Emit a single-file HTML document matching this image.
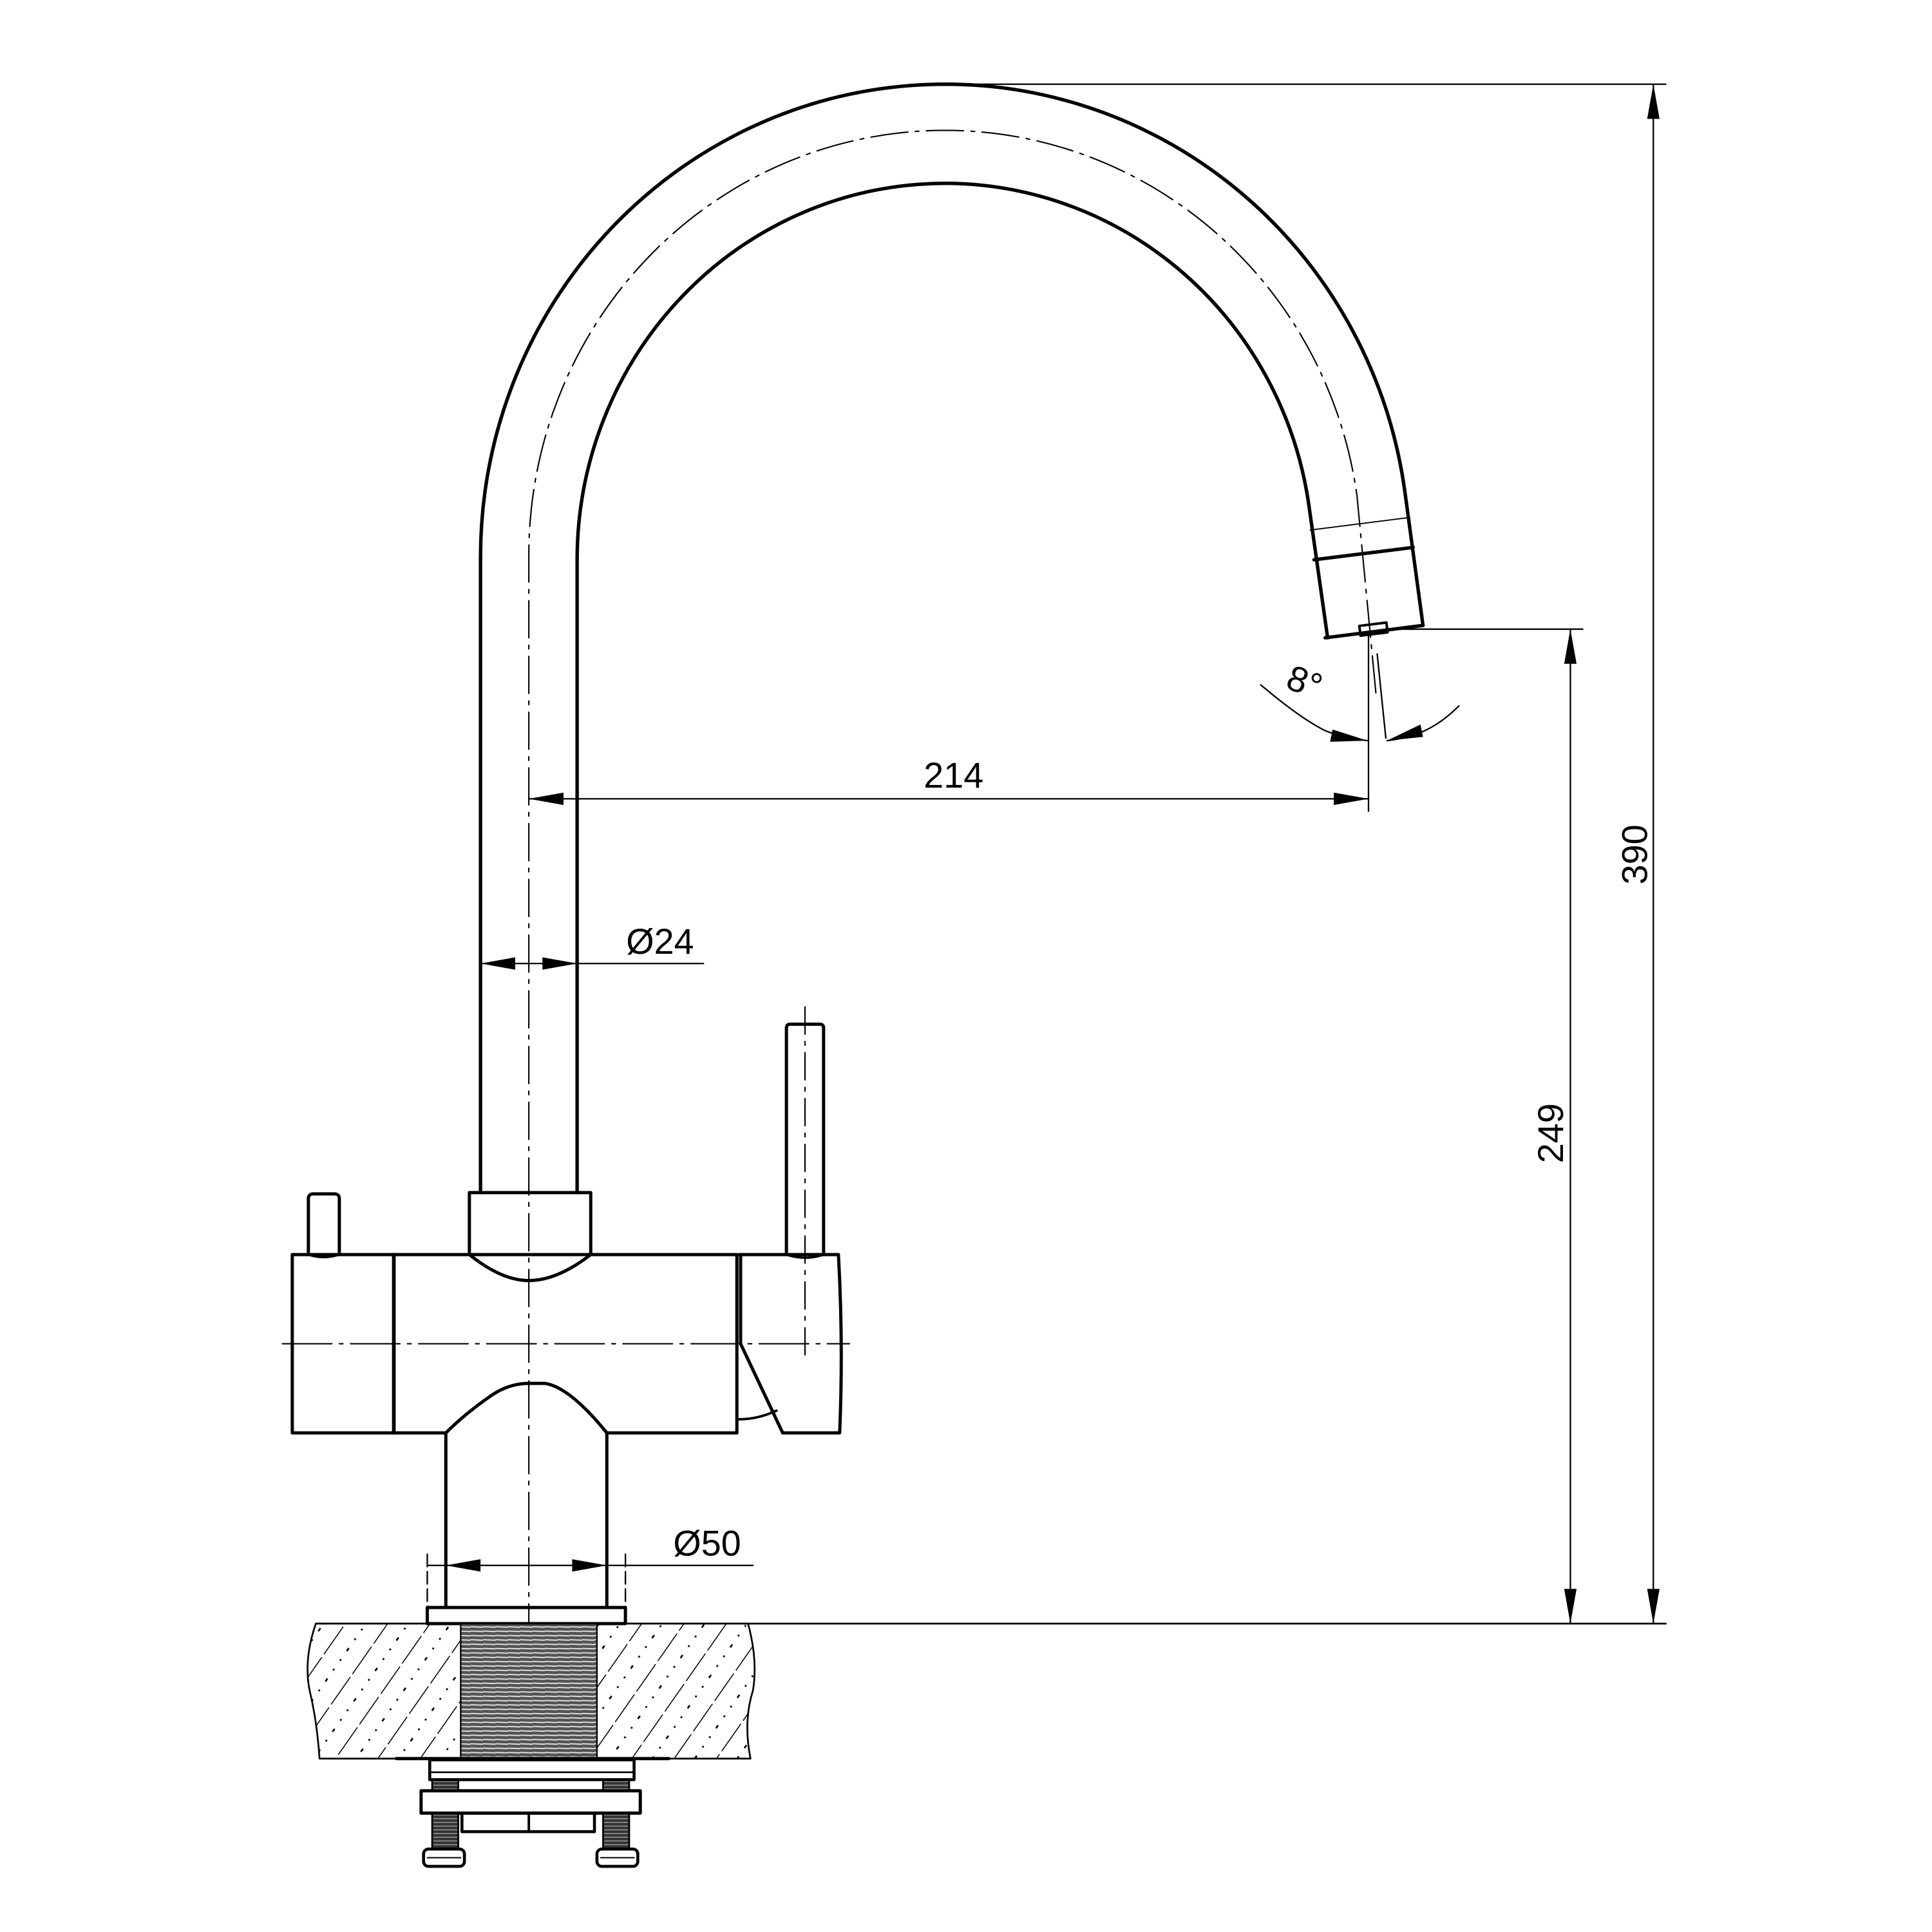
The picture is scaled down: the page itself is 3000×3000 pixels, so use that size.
<!DOCTYPE html>
<html><head><meta charset="utf-8"><style>html,body{margin:0;padding:0;background:#fff}svg{display:block}</style></head><body>
<svg width="3000" height="3000" viewBox="0 0 1560 1560" xmlns="http://www.w3.org/2000/svg" font-family="Liberation Sans, sans-serif">
<defs>
<pattern id="hatch" patternUnits="userSpaceOnUse" width="28" height="30" patternTransform="rotate(35)">
<line x1="0" y1="0" x2="0" y2="30" stroke="#000" stroke-width="1.6" stroke-dasharray="14 3"/>
<line x1="14" y1="0" x2="14" y2="30" stroke="#000" stroke-width="1.4" stroke-dasharray="1.5 8"/>
</pattern>
<pattern id="thread" patternUnits="userSpaceOnUse" width="10" height="3.5">
<rect width="10" height="3.5" fill="#555"/>
<line x1="0" y1="1" x2="10" y2="1.4" stroke="#eee" stroke-width="0.9"/>
</pattern>
<pattern id="bolt" patternUnits="userSpaceOnUse" width="6" height="3">
<rect width="6" height="3" fill="#333"/>
<line x1="0" y1="1.5" x2="6" y2="1.5" stroke="#999" stroke-width="0.8"/>
</pattern>
</defs>
<g fill="none" stroke="#000" stroke-linecap="round" stroke-linejoin="round">
<path d="M388 963 L388 450 A375 382 0 0 1 1134.35 396.84 L1149 505" stroke-width="2.8"/>
<path d="M466 963 L466 452 A297 304 0 0 1 1057.1 409.7 L1072 515" stroke-width="2.8"/>
<path d="M1070 515 L1149 505" stroke-width="2.8"/>
<path d="M1061 452 L1141 442" stroke-width="2.8"/>
<path d="M1058 428 L1137 418" stroke-width="1"/>
<rect x="1098" y="504" width="22" height="8" transform="rotate(-7 1109 508)" stroke-width="2"/>
<path d="M427 1325 L427 448 A336 343 0 0 1 1095.7 400.3 L1111 560" stroke-width="1.1" stroke-dasharray="30 6 3 6"/>
<rect x="379" y="963" width="98" height="50" stroke-width="2.6"/>
<path d="M249 1013 L249 968 Q249 964 253 964 L270 964 Q274 964 274 968 L274 1013" stroke-width="2.6"/>
<path d="M249 1013 Q261 1017 274 1013" stroke-width="2"/>
<path d="M236 1013 L379 1013 Q405 1034 427 1034 Q450 1034 477 1013 L595 1013 L595 1157 L490 1157 Q460 1120 440 1117 L427 1117 Q410 1117 395 1128 Q375 1142 360 1157 L236 1157 Z" stroke-width="2.6"/>
<line x1="318" y1="1013" x2="318" y2="1157" stroke-width="3"/>
<path d="M597 1013 L677 1013 Q681 1085 678 1157 L632 1157 L598 1085 L598 1013" stroke-width="2.6"/>
<path d="M597 1146 Q612 1146 627 1139" stroke-width="2"/>
<path d="M635 1013 L635 830 Q635 827 638 827 L662 827 Q665 827 665 830 L665 1013" stroke-width="2.6"/>
<path d="M635 1013 Q650 1018 665 1013" stroke-width="2"/>
<line x1="650" y1="813" x2="650" y2="1094" stroke-width="1.1" stroke-dasharray="22 6 3 6"/>
<line x1="228" y1="1085" x2="686" y2="1085" stroke-width="1.1" stroke-dasharray="40 6 3 6"/>
<line x1="360" y1="1157" x2="360" y2="1298" stroke-width="2.6"/>
<line x1="490" y1="1157" x2="490" y2="1298" stroke-width="2.6"/>
<rect x="345" y="1298" width="160" height="13" stroke-width="2.6"/>
<path d="M255 1311 Q245 1340 250 1365 Q256 1390 258 1420 L606 1420 Q600 1390 608 1365 Q612 1340 604 1311 Z" fill="url(#hatch)" stroke-width="1.4"/>
<rect x="372" y="1311" width="110" height="109" fill="#fff" stroke="none"/>
<rect x="372" y="1311" width="110" height="109" fill="url(#thread)" stroke-width="1.2"/>
<line x1="255" y1="1311" x2="1345" y2="1311" stroke-width="1.4"/>
<line x1="320" y1="1420" x2="540" y2="1420" stroke-width="2.6"/>
<rect x="349" y="1436" width="21" height="58" fill="url(#bolt)" stroke-width="1.5"/>
<rect x="487" y="1436" width="21" height="58" fill="url(#bolt)" stroke-width="1.5"/>
<rect x="347" y="1421" width="165" height="16" fill="#fff" stroke-width="2.4"/>
<line x1="347" y1="1431" x2="512" y2="1431" stroke-width="1.4"/>
<rect x="340" y="1446" width="177" height="18" fill="#fff" stroke-width="2.6"/>
<rect x="373" y="1464" width="107" height="15" stroke-width="2.4"/>
<line x1="427" y1="1464" x2="427" y2="1479" stroke-width="2"/>
<rect x="342" y="1493" width="33" height="14" rx="4" fill="#fff" stroke-width="2.4"/>
<rect x="482" y="1493" width="33" height="14" rx="4" fill="#fff" stroke-width="2.4"/>
<line x1="345" y1="1500" x2="372" y2="1500" stroke-width="1"/>
<line x1="485" y1="1500" x2="512" y2="1500" stroke-width="1"/>
<g stroke-width="1.2">
<line x1="770" y1="68" x2="1345" y2="68"/>
<line x1="1120" y1="508" x2="1278" y2="508"/>
<line x1="1335" y1="68" x2="1335" y2="1311"/>
<line x1="1268" y1="508" x2="1268" y2="1311"/>
<line x1="427" y1="645" x2="1105" y2="645"/>
<line x1="1105" y1="512" x2="1105" y2="655"/>
<line x1="1112" y1="528" x2="1119" y2="596"/>
<line x1="388" y1="778" x2="568" y2="778"/>
<line x1="345" y1="1264" x2="608" y2="1264"/>
<line x1="345" y1="1255" x2="345" y2="1298" stroke-dasharray="10 4"/>
<line x1="505" y1="1255" x2="505" y2="1298" stroke-dasharray="10 4"/>
<path d="M1018 553 Q1050 580 1070 590 Q1085 596 1104 598"/>
<path d="M1178 570 Q1160 588 1140 594 Q1130 597 1120 598"/>
</g>
</g>
<g fill="#000">
<path d="M1335 68 L1330 96 L1340 96 Z"/>
<path d="M1335 1311 L1330 1283 L1340 1283 Z"/>
<path d="M1268 508 L1263 536 L1273 536 Z"/>
<path d="M1268 1311 L1263 1283 L1273 1283 Z"/>
<path d="M427 645 L455 640 L455 650 Z"/>
<path d="M1105 645 L1077 640 L1077 650 Z"/>
<path d="M388 778 L416 773 L416 783 Z"/>
<path d="M466 778 L438 773 L438 783 Z"/>
<path d="M360 1264 L388 1259 L388 1269 Z"/>
<path d="M490 1264 L462 1259 L462 1269 Z"/>
<path d="M1104 598 L1076 589 L1074 599 Z"/>
<path d="M1120 598 L1147 585 L1149 595 Z"/>
</g>
<g font-size="29" fill="#000">
<text x="770" y="636" text-anchor="middle">214</text>
<text x="533" y="770" text-anchor="middle">Ø24</text>
<text x="571" y="1256" text-anchor="middle">Ø50</text>
<text transform="translate(1330 690) rotate(-90)" text-anchor="middle">390</text>
<text transform="translate(1262 915) rotate(-90)" text-anchor="middle">249</text>
<text transform="translate(1050 560) rotate(20)" text-anchor="middle">8°</text>
</g>
</svg>
</body></html>
